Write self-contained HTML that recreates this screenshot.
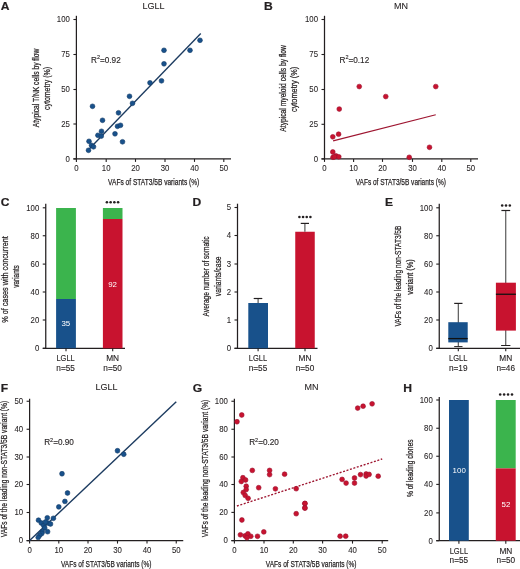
<!DOCTYPE html>
<html><head><meta charset="utf-8"><style>
html,body{margin:0;padding:0;background:#fff;}
body{width:520px;height:569px;overflow:hidden;}
svg{display:block;font-family:"Liberation Sans", sans-serif;filter:blur(0.3px);}
</style></head><body>
<svg width="520" height="569" viewBox="0 0 520 569">
<rect width="520" height="569" fill="#fff"/>
<text transform="translate(0.8,9.6) scale(1.1,1)" font-size="11" text-anchor="start" font-weight="bold" fill="#231f20" stroke="#231f20" stroke-width="0.2">A</text>
<text x="153.6" y="8.8" font-size="9" text-anchor="middle" font-weight="normal" fill="#231f20" stroke="#231f20" stroke-width="0.08">LGLL</text>
<line x1="76.4" y1="15.8" x2="76.4" y2="158.9" stroke="#231f20" stroke-width="1.25" />
<line x1="73.4" y1="19.5" x2="76.4" y2="19.5" stroke="#231f20" stroke-width="1.1" />
<text transform="translate(69.9,22.3) scale(0.92,1)" font-size="8.5" text-anchor="end" font-weight="normal" fill="#231f20" stroke="#231f20" stroke-width="0.08">100</text>
<line x1="73.4" y1="54.5" x2="76.4" y2="54.5" stroke="#231f20" stroke-width="1.1" />
<text transform="translate(69.9,57.3) scale(0.92,1)" font-size="8.5" text-anchor="end" font-weight="normal" fill="#231f20" stroke="#231f20" stroke-width="0.08">75</text>
<line x1="73.4" y1="89.5" x2="76.4" y2="89.5" stroke="#231f20" stroke-width="1.1" />
<text transform="translate(69.9,92.3) scale(0.92,1)" font-size="8.5" text-anchor="end" font-weight="normal" fill="#231f20" stroke="#231f20" stroke-width="0.08">50</text>
<line x1="73.4" y1="124" x2="76.4" y2="124" stroke="#231f20" stroke-width="1.1" />
<text transform="translate(69.9,126.8) scale(0.92,1)" font-size="8.5" text-anchor="end" font-weight="normal" fill="#231f20" stroke="#231f20" stroke-width="0.08">25</text>
<line x1="73.4" y1="158.9" x2="76.4" y2="158.9" stroke="#231f20" stroke-width="1.1" />
<text transform="translate(69.9,161.70000000000002) scale(0.92,1)" font-size="8.5" text-anchor="end" font-weight="normal" fill="#231f20" stroke="#231f20" stroke-width="0.08">0</text>
<line x1="73.4" y1="158.9" x2="231" y2="158.9" stroke="#231f20" stroke-width="1.25" />
<line x1="76.4" y1="158.9" x2="76.4" y2="161.9" stroke="#231f20" stroke-width="1.1" />
<text transform="translate(76.4,170.9) scale(0.92,1)" font-size="8.5" text-anchor="middle" font-weight="normal" fill="#231f20" stroke="#231f20" stroke-width="0.08">0</text>
<line x1="106.2" y1="158.9" x2="106.2" y2="161.9" stroke="#231f20" stroke-width="1.1" />
<text transform="translate(106.2,170.9) scale(0.92,1)" font-size="8.5" text-anchor="middle" font-weight="normal" fill="#231f20" stroke="#231f20" stroke-width="0.08">10</text>
<line x1="135.5" y1="158.9" x2="135.5" y2="161.9" stroke="#231f20" stroke-width="1.1" />
<text transform="translate(135.5,170.9) scale(0.92,1)" font-size="8.5" text-anchor="middle" font-weight="normal" fill="#231f20" stroke="#231f20" stroke-width="0.08">20</text>
<line x1="165" y1="158.9" x2="165" y2="161.9" stroke="#231f20" stroke-width="1.1" />
<text transform="translate(165,170.9) scale(0.92,1)" font-size="8.5" text-anchor="middle" font-weight="normal" fill="#231f20" stroke="#231f20" stroke-width="0.08">30</text>
<line x1="194.5" y1="158.9" x2="194.5" y2="161.9" stroke="#231f20" stroke-width="1.1" />
<text transform="translate(194.5,170.9) scale(0.92,1)" font-size="8.5" text-anchor="middle" font-weight="normal" fill="#231f20" stroke="#231f20" stroke-width="0.08">40</text>
<line x1="223.8" y1="158.9" x2="223.8" y2="161.9" stroke="#231f20" stroke-width="1.1" />
<text transform="translate(223.8,170.9) scale(0.92,1)" font-size="8.5" text-anchor="middle" font-weight="normal" fill="#231f20" stroke="#231f20" stroke-width="0.08">50</text>
<text x="153.7" y="185.2" font-size="9.5" text-anchor="middle" fill="#231f20" textLength="91.2" lengthAdjust="spacingAndGlyphs" stroke="#231f20" stroke-width="0.25">VAFs of STAT3/5B variants (%)</text>
<text transform="translate(39.1,88) rotate(-90)" x="0" y="0" font-size="9.5" text-anchor="middle" fill="#231f20" textLength="78.6" lengthAdjust="spacingAndGlyphs" stroke="#231f20" stroke-width="0.25">Atypical T/NK cells by flow</text>
<text transform="translate(50.2,88.5) rotate(-90)" x="0" y="0" font-size="9.5" text-anchor="middle" fill="#231f20" textLength="43" lengthAdjust="spacingAndGlyphs" stroke="#231f20" stroke-width="0.25">cytometry (%)</text>
<text x="91" y="62.7" font-size="8.2" fill="#231f20" stroke="#231f20" stroke-width="0.12">R<tspan font-size="5.5" dy="-3.4">2</tspan><tspan dy="3.4">=0.92</tspan></text>
<line x1="87" y1="151.3" x2="200.75" y2="33.5" stroke="#1c3b60" stroke-width="1.35" />
<circle cx="88.5" cy="150.3" r="2.4" fill="#18518b" stroke="#143d68" stroke-width="0.6"/>
<circle cx="89" cy="141.3" r="2.4" fill="#18518b" stroke="#143d68" stroke-width="0.6"/>
<circle cx="91.5" cy="145.3" r="2.4" fill="#18518b" stroke="#143d68" stroke-width="0.6"/>
<circle cx="93.5" cy="146.8" r="2.4" fill="#18518b" stroke="#143d68" stroke-width="0.6"/>
<circle cx="92.5" cy="106.3" r="2.4" fill="#18518b" stroke="#143d68" stroke-width="0.6"/>
<circle cx="97.9" cy="135.3" r="2.4" fill="#18518b" stroke="#143d68" stroke-width="0.6"/>
<circle cx="102.5" cy="120.3" r="2.4" fill="#18518b" stroke="#143d68" stroke-width="0.6"/>
<circle cx="101.5" cy="131.3" r="2.4" fill="#18518b" stroke="#143d68" stroke-width="0.6"/>
<circle cx="101.3" cy="136.10000000000002" r="2.4" fill="#18518b" stroke="#143d68" stroke-width="0.6"/>
<circle cx="115" cy="133.8" r="2.4" fill="#18518b" stroke="#143d68" stroke-width="0.6"/>
<circle cx="118.5" cy="112.8" r="2.4" fill="#18518b" stroke="#143d68" stroke-width="0.6"/>
<circle cx="117.5" cy="126.3" r="2.4" fill="#18518b" stroke="#143d68" stroke-width="0.6"/>
<circle cx="120.5" cy="125.3" r="2.4" fill="#18518b" stroke="#143d68" stroke-width="0.6"/>
<circle cx="122.5" cy="141.8" r="2.4" fill="#18518b" stroke="#143d68" stroke-width="0.6"/>
<circle cx="129.5" cy="96.3" r="2.4" fill="#18518b" stroke="#143d68" stroke-width="0.6"/>
<circle cx="132.5" cy="103.3" r="2.4" fill="#18518b" stroke="#143d68" stroke-width="0.6"/>
<circle cx="150" cy="82.8" r="2.4" fill="#18518b" stroke="#143d68" stroke-width="0.6"/>
<circle cx="161.5" cy="80.8" r="2.4" fill="#18518b" stroke="#143d68" stroke-width="0.6"/>
<circle cx="164" cy="63.8" r="2.4" fill="#18518b" stroke="#143d68" stroke-width="0.6"/>
<circle cx="164" cy="50.3" r="2.4" fill="#18518b" stroke="#143d68" stroke-width="0.6"/>
<circle cx="190" cy="50.3" r="2.4" fill="#18518b" stroke="#143d68" stroke-width="0.6"/>
<circle cx="200" cy="40.3" r="2.4" fill="#18518b" stroke="#143d68" stroke-width="0.6"/>
<text transform="translate(264,9.6) scale(1.1,1)" font-size="11" text-anchor="start" font-weight="bold" fill="#231f20" stroke="#231f20" stroke-width="0.2">B</text>
<text x="401" y="8.8" font-size="9" text-anchor="middle" font-weight="normal" fill="#231f20" stroke="#231f20" stroke-width="0.08">MN</text>
<line x1="324.5" y1="15.8" x2="324.5" y2="158.9" stroke="#231f20" stroke-width="1.25" />
<line x1="321.5" y1="19.5" x2="324.5" y2="19.5" stroke="#231f20" stroke-width="1.1" />
<text transform="translate(318.0,22.3) scale(0.92,1)" font-size="8.5" text-anchor="end" font-weight="normal" fill="#231f20" stroke="#231f20" stroke-width="0.08">100</text>
<line x1="321.5" y1="54.5" x2="324.5" y2="54.5" stroke="#231f20" stroke-width="1.1" />
<text transform="translate(318.0,57.3) scale(0.92,1)" font-size="8.5" text-anchor="end" font-weight="normal" fill="#231f20" stroke="#231f20" stroke-width="0.08">75</text>
<line x1="321.5" y1="89.5" x2="324.5" y2="89.5" stroke="#231f20" stroke-width="1.1" />
<text transform="translate(318.0,92.3) scale(0.92,1)" font-size="8.5" text-anchor="end" font-weight="normal" fill="#231f20" stroke="#231f20" stroke-width="0.08">50</text>
<line x1="321.5" y1="124.3" x2="324.5" y2="124.3" stroke="#231f20" stroke-width="1.1" />
<text transform="translate(318.0,127.1) scale(0.92,1)" font-size="8.5" text-anchor="end" font-weight="normal" fill="#231f20" stroke="#231f20" stroke-width="0.08">25</text>
<line x1="321.5" y1="158.9" x2="324.5" y2="158.9" stroke="#231f20" stroke-width="1.1" />
<text transform="translate(318.0,161.70000000000002) scale(0.92,1)" font-size="8.5" text-anchor="end" font-weight="normal" fill="#231f20" stroke="#231f20" stroke-width="0.08">0</text>
<line x1="321.5" y1="158.9" x2="478" y2="158.9" stroke="#231f20" stroke-width="1.25" />
<line x1="324.5" y1="158.9" x2="324.5" y2="161.9" stroke="#231f20" stroke-width="1.1" />
<text transform="translate(324.5,170.9) scale(0.92,1)" font-size="8.5" text-anchor="middle" font-weight="normal" fill="#231f20" stroke="#231f20" stroke-width="0.08">0</text>
<line x1="353.6" y1="158.9" x2="353.6" y2="161.9" stroke="#231f20" stroke-width="1.1" />
<text transform="translate(353.6,170.9) scale(0.92,1)" font-size="8.5" text-anchor="middle" font-weight="normal" fill="#231f20" stroke="#231f20" stroke-width="0.08">10</text>
<line x1="382.5" y1="158.9" x2="382.5" y2="161.9" stroke="#231f20" stroke-width="1.1" />
<text transform="translate(382.5,170.9) scale(0.92,1)" font-size="8.5" text-anchor="middle" font-weight="normal" fill="#231f20" stroke="#231f20" stroke-width="0.08">20</text>
<line x1="412.5" y1="158.9" x2="412.5" y2="161.9" stroke="#231f20" stroke-width="1.1" />
<text transform="translate(412.5,170.9) scale(0.92,1)" font-size="8.5" text-anchor="middle" font-weight="normal" fill="#231f20" stroke="#231f20" stroke-width="0.08">30</text>
<line x1="441.8" y1="158.9" x2="441.8" y2="161.9" stroke="#231f20" stroke-width="1.1" />
<text transform="translate(441.8,170.9) scale(0.92,1)" font-size="8.5" text-anchor="middle" font-weight="normal" fill="#231f20" stroke="#231f20" stroke-width="0.08">40</text>
<line x1="470.8" y1="158.9" x2="470.8" y2="161.9" stroke="#231f20" stroke-width="1.1" />
<text transform="translate(470.8,170.9) scale(0.92,1)" font-size="8.5" text-anchor="middle" font-weight="normal" fill="#231f20" stroke="#231f20" stroke-width="0.08">50</text>
<text x="400.8" y="185.2" font-size="9.5" text-anchor="middle" fill="#231f20" textLength="90.2" lengthAdjust="spacingAndGlyphs" stroke="#231f20" stroke-width="0.25">VAFs of STAT3/5B variants (%)</text>
<text transform="translate(286.3,88.4) rotate(-90)" x="0" y="0" font-size="9.5" text-anchor="middle" fill="#231f20" textLength="86.5" lengthAdjust="spacingAndGlyphs" stroke="#231f20" stroke-width="0.25">Atypical myeloid cells by flow</text>
<text transform="translate(297.4,89.4) rotate(-90)" x="0" y="0" font-size="9.5" text-anchor="middle" fill="#231f20" textLength="45.3" lengthAdjust="spacingAndGlyphs" stroke="#231f20" stroke-width="0.25">cytometry (%)</text>
<text x="339.5" y="62.7" font-size="8.2" fill="#231f20" stroke="#231f20" stroke-width="0.12">R<tspan font-size="5.5" dy="-3.4">2</tspan><tspan dy="3.4">=0.12</tspan></text>
<line x1="333.1" y1="140.9" x2="435.75" y2="114.75" stroke="#9e1530" stroke-width="1.2" />
<circle cx="332.8" cy="136.8" r="2.4" fill="#c8132f" stroke="#9c1230" stroke-width="0.6"/>
<circle cx="338.6" cy="134.20000000000002" r="2.4" fill="#c8132f" stroke="#9c1230" stroke-width="0.6"/>
<circle cx="339.25" cy="109.05" r="2.4" fill="#c8132f" stroke="#9c1230" stroke-width="0.6"/>
<circle cx="359.25" cy="86.55" r="2.4" fill="#c8132f" stroke="#9c1230" stroke-width="0.6"/>
<circle cx="385.75" cy="96.55" r="2.4" fill="#c8132f" stroke="#9c1230" stroke-width="0.6"/>
<circle cx="435.75" cy="86.55" r="2.4" fill="#c8132f" stroke="#9c1230" stroke-width="0.6"/>
<circle cx="429.5" cy="147.3" r="2.4" fill="#c8132f" stroke="#9c1230" stroke-width="0.6"/>
<circle cx="409.25" cy="157.3" r="2.4" fill="#c8132f" stroke="#9c1230" stroke-width="0.6"/>
<circle cx="332.8" cy="152.0" r="2.4" fill="#c8132f" stroke="#9c1230" stroke-width="0.6"/>
<circle cx="333" cy="157.3" r="2.4" fill="#c8132f" stroke="#9c1230" stroke-width="0.6"/>
<circle cx="336" cy="155.9" r="2.4" fill="#c8132f" stroke="#9c1230" stroke-width="0.6"/>
<circle cx="338.8" cy="156.8" r="2.4" fill="#c8132f" stroke="#9c1230" stroke-width="0.6"/>
<circle cx="334.5" cy="156.8" r="2.4" fill="#c8132f" stroke="#9c1230" stroke-width="0.6"/>
<text transform="translate(0.8,205.8) scale(1.1,1)" font-size="11" text-anchor="start" font-weight="bold" fill="#231f20" stroke="#231f20" stroke-width="0.2">C</text>
<line x1="45.75" y1="203.7" x2="45.75" y2="348.3" stroke="#231f20" stroke-width="1.25" />
<line x1="42.75" y1="207.8" x2="45.75" y2="207.8" stroke="#231f20" stroke-width="1.1" />
<text transform="translate(39.25,210.60000000000002) scale(0.92,1)" font-size="8.5" text-anchor="end" font-weight="normal" fill="#231f20" stroke="#231f20" stroke-width="0.08">100</text>
<line x1="42.75" y1="235.75" x2="45.75" y2="235.75" stroke="#231f20" stroke-width="1.1" />
<text transform="translate(39.25,238.55) scale(0.92,1)" font-size="8.5" text-anchor="end" font-weight="normal" fill="#231f20" stroke="#231f20" stroke-width="0.08">80</text>
<line x1="42.75" y1="264.1" x2="45.75" y2="264.1" stroke="#231f20" stroke-width="1.1" />
<text transform="translate(39.25,266.90000000000003) scale(0.92,1)" font-size="8.5" text-anchor="end" font-weight="normal" fill="#231f20" stroke="#231f20" stroke-width="0.08">60</text>
<line x1="42.75" y1="292" x2="45.75" y2="292" stroke="#231f20" stroke-width="1.1" />
<text transform="translate(39.25,294.8) scale(0.92,1)" font-size="8.5" text-anchor="end" font-weight="normal" fill="#231f20" stroke="#231f20" stroke-width="0.08">40</text>
<line x1="42.75" y1="320" x2="45.75" y2="320" stroke="#231f20" stroke-width="1.1" />
<text transform="translate(39.25,322.8) scale(0.92,1)" font-size="8.5" text-anchor="end" font-weight="normal" fill="#231f20" stroke="#231f20" stroke-width="0.08">20</text>
<line x1="42.75" y1="348.3" x2="45.75" y2="348.3" stroke="#231f20" stroke-width="1.1" />
<text transform="translate(39.25,351.1) scale(0.92,1)" font-size="8.5" text-anchor="end" font-weight="normal" fill="#231f20" stroke="#231f20" stroke-width="0.08">0</text>
<line x1="42.75" y1="348.3" x2="125" y2="348.3" stroke="#231f20" stroke-width="1.25" />
<rect x="56.1" y="208" width="19.8" height="91" fill="#3bb44d"/>
<rect x="56.1" y="299" width="19.8" height="49.3" fill="#18518b"/>
<rect x="102.9" y="208" width="19.6" height="11" fill="#3bb44d"/>
<rect x="102.9" y="219" width="19.6" height="129.3" fill="#c8132f"/>
<line x1="66" y1="348.3" x2="66" y2="351.3" stroke="#231f20" stroke-width="1.1" />
<line x1="112.7" y1="348.3" x2="112.7" y2="351.3" stroke="#231f20" stroke-width="1.1" />
<text x="65.8" y="326.4" font-size="7.9" text-anchor="middle" font-weight="normal" fill="#ffffff" stroke="#ffffff" stroke-width="0">35</text>
<text x="112.6" y="286.6" font-size="7.9" text-anchor="middle" font-weight="normal" fill="#ffffff" stroke="#ffffff" stroke-width="0">92</text>
<circle cx="106.90" cy="202.3" r="1.3" fill="#231f20"/>
<circle cx="110.63" cy="202.3" r="1.3" fill="#231f20"/>
<circle cx="114.37" cy="202.3" r="1.3" fill="#231f20"/>
<circle cx="118.10" cy="202.3" r="1.3" fill="#231f20"/>
<text x="65.6" y="361.2" font-size="8.3" text-anchor="middle" font-weight="normal" fill="#231f20" stroke="#231f20" stroke-width="0.12" textLength="18.4" lengthAdjust="spacingAndGlyphs">LGLL</text>
<text x="65.6" y="370.7" font-size="8.3" text-anchor="middle" font-weight="normal" fill="#231f20" stroke="#231f20" stroke-width="0.12" textLength="18.6" lengthAdjust="spacingAndGlyphs">n=55</text>
<text x="112.6" y="361.2" font-size="8.3" text-anchor="middle" font-weight="normal" fill="#231f20" stroke="#231f20" stroke-width="0.12">MN</text>
<text x="112.6" y="370.7" font-size="8.3" text-anchor="middle" font-weight="normal" fill="#231f20" stroke="#231f20" stroke-width="0.12" textLength="18.6" lengthAdjust="spacingAndGlyphs">n=50</text>
<text transform="translate(8.0,279.5) rotate(-90)" x="0" y="0" font-size="9.5" text-anchor="middle" fill="#231f20" textLength="86.5" lengthAdjust="spacingAndGlyphs" stroke="#231f20" stroke-width="0.25">% of cases with concurrent</text>
<text transform="translate(19.0,276.5) rotate(-90)" x="0" y="0" font-size="9.5" text-anchor="middle" fill="#231f20" textLength="22.5" lengthAdjust="spacingAndGlyphs" stroke="#231f20" stroke-width="0.25">variants</text>
<text transform="translate(192.5,205.8) scale(1.1,1)" font-size="11" text-anchor="start" font-weight="bold" fill="#231f20" stroke="#231f20" stroke-width="0.2">D</text>
<line x1="237.5" y1="203.7" x2="237.5" y2="348.3" stroke="#231f20" stroke-width="1.25" />
<line x1="234.5" y1="207.5" x2="237.5" y2="207.5" stroke="#231f20" stroke-width="1.1" />
<text transform="translate(231.0,210.3) scale(0.92,1)" font-size="8.5" text-anchor="end" font-weight="normal" fill="#231f20" stroke="#231f20" stroke-width="0.08">5</text>
<line x1="234.5" y1="235.5" x2="237.5" y2="235.5" stroke="#231f20" stroke-width="1.1" />
<text transform="translate(231.0,238.3) scale(0.92,1)" font-size="8.5" text-anchor="end" font-weight="normal" fill="#231f20" stroke="#231f20" stroke-width="0.08">4</text>
<line x1="234.5" y1="264" x2="237.5" y2="264" stroke="#231f20" stroke-width="1.1" />
<text transform="translate(231.0,266.8) scale(0.92,1)" font-size="8.5" text-anchor="end" font-weight="normal" fill="#231f20" stroke="#231f20" stroke-width="0.08">3</text>
<line x1="234.5" y1="292" x2="237.5" y2="292" stroke="#231f20" stroke-width="1.1" />
<text transform="translate(231.0,294.8) scale(0.92,1)" font-size="8.5" text-anchor="end" font-weight="normal" fill="#231f20" stroke="#231f20" stroke-width="0.08">2</text>
<line x1="234.5" y1="320" x2="237.5" y2="320" stroke="#231f20" stroke-width="1.1" />
<text transform="translate(231.0,322.8) scale(0.92,1)" font-size="8.5" text-anchor="end" font-weight="normal" fill="#231f20" stroke="#231f20" stroke-width="0.08">1</text>
<line x1="234.5" y1="348.3" x2="237.5" y2="348.3" stroke="#231f20" stroke-width="1.1" />
<text transform="translate(231.0,351.1) scale(0.92,1)" font-size="8.5" text-anchor="end" font-weight="normal" fill="#231f20" stroke="#231f20" stroke-width="0.08">0</text>
<line x1="234.5" y1="348.3" x2="317.5" y2="348.3" stroke="#231f20" stroke-width="1.25" />
<rect x="248.3" y="303" width="19.7" height="45.3" fill="#18518b"/>
<rect x="295.25" y="231.75" width="19.5" height="116.55" fill="#c8132f"/>
<line x1="258.1" y1="303" x2="258.1" y2="298.5" stroke="#4a4a4a" stroke-width="1.1" />
<line x1="253.7" y1="298.5" x2="262.3" y2="298.5" stroke="#231f20" stroke-width="1.2" />
<line x1="304.9" y1="231.75" x2="304.9" y2="223.4" stroke="#4a4a4a" stroke-width="1.1" />
<line x1="300.75" y1="223.4" x2="309" y2="223.4" stroke="#231f20" stroke-width="1.2" />
<line x1="258.1" y1="348.3" x2="258.1" y2="351.3" stroke="#231f20" stroke-width="1.1" />
<line x1="305" y1="348.3" x2="305" y2="351.3" stroke="#231f20" stroke-width="1.1" />
<circle cx="299.40" cy="217" r="1.3" fill="#231f20"/>
<circle cx="303.07" cy="217" r="1.3" fill="#231f20"/>
<circle cx="306.73" cy="217" r="1.3" fill="#231f20"/>
<circle cx="310.40" cy="217" r="1.3" fill="#231f20"/>
<text x="258" y="361.2" font-size="8.3" text-anchor="middle" font-weight="normal" fill="#231f20" stroke="#231f20" stroke-width="0.12" textLength="18.4" lengthAdjust="spacingAndGlyphs">LGLL</text>
<text x="258" y="370.7" font-size="8.3" text-anchor="middle" font-weight="normal" fill="#231f20" stroke="#231f20" stroke-width="0.12" textLength="18.6" lengthAdjust="spacingAndGlyphs">n=55</text>
<text x="305" y="361.2" font-size="8.3" text-anchor="middle" font-weight="normal" fill="#231f20" stroke="#231f20" stroke-width="0.12">MN</text>
<text x="305" y="370.7" font-size="8.3" text-anchor="middle" font-weight="normal" fill="#231f20" stroke="#231f20" stroke-width="0.12" textLength="18.6" lengthAdjust="spacingAndGlyphs">n=50</text>
<text transform="translate(209.4,276.4) rotate(-90)" x="0" y="0" font-size="9.5" text-anchor="middle" fill="#231f20" textLength="80" lengthAdjust="spacingAndGlyphs" stroke="#231f20" stroke-width="0.25">Average number of somatic</text>
<text transform="translate(221.0,276.3) rotate(-90)" x="0" y="0" font-size="9.5" text-anchor="middle" fill="#231f20" textLength="39.8" lengthAdjust="spacingAndGlyphs" stroke="#231f20" stroke-width="0.25">variants/case</text>
<text transform="translate(385,205.8) scale(1.1,1)" font-size="11" text-anchor="start" font-weight="bold" fill="#231f20" stroke="#231f20" stroke-width="0.2">E</text>
<line x1="439.25" y1="203.7" x2="439.25" y2="348.3" stroke="#231f20" stroke-width="1.25" />
<line x1="436.25" y1="207.8" x2="439.25" y2="207.8" stroke="#231f20" stroke-width="1.1" />
<text transform="translate(432.75,210.60000000000002) scale(0.92,1)" font-size="8.5" text-anchor="end" font-weight="normal" fill="#231f20" stroke="#231f20" stroke-width="0.08">100</text>
<line x1="436.25" y1="235.75" x2="439.25" y2="235.75" stroke="#231f20" stroke-width="1.1" />
<text transform="translate(432.75,238.55) scale(0.92,1)" font-size="8.5" text-anchor="end" font-weight="normal" fill="#231f20" stroke="#231f20" stroke-width="0.08">80</text>
<line x1="436.25" y1="264.1" x2="439.25" y2="264.1" stroke="#231f20" stroke-width="1.1" />
<text transform="translate(432.75,266.90000000000003) scale(0.92,1)" font-size="8.5" text-anchor="end" font-weight="normal" fill="#231f20" stroke="#231f20" stroke-width="0.08">60</text>
<line x1="436.25" y1="292" x2="439.25" y2="292" stroke="#231f20" stroke-width="1.1" />
<text transform="translate(432.75,294.8) scale(0.92,1)" font-size="8.5" text-anchor="end" font-weight="normal" fill="#231f20" stroke="#231f20" stroke-width="0.08">40</text>
<line x1="436.25" y1="320" x2="439.25" y2="320" stroke="#231f20" stroke-width="1.1" />
<text transform="translate(432.75,322.8) scale(0.92,1)" font-size="8.5" text-anchor="end" font-weight="normal" fill="#231f20" stroke="#231f20" stroke-width="0.08">20</text>
<line x1="436.25" y1="348.3" x2="439.25" y2="348.3" stroke="#231f20" stroke-width="1.1" />
<text transform="translate(432.75,351.1) scale(0.92,1)" font-size="8.5" text-anchor="end" font-weight="normal" fill="#231f20" stroke="#231f20" stroke-width="0.08">0</text>
<line x1="436.25" y1="348.3" x2="520" y2="348.3" stroke="#231f20" stroke-width="1.25" />
<line x1="458.3" y1="303.4" x2="458.3" y2="346.6" stroke="#4a4a4a" stroke-width="1.1" />
<line x1="454.2" y1="303.4" x2="462.5" y2="303.4" stroke="#231f20" stroke-width="1.2" />
<line x1="454.2" y1="346.6" x2="462.5" y2="346.6" stroke="#231f20" stroke-width="1.0" />
<rect x="448.3" y="322.2" width="19.4" height="20.2" fill="#18518b"/>
<line x1="448.3" y1="338.6" x2="467.7" y2="338.6" stroke="#111" stroke-width="1.3" />
<line x1="505.75" y1="210.5" x2="505.75" y2="345.5" stroke="#4a4a4a" stroke-width="1.1" />
<line x1="501.4" y1="210.5" x2="510.2" y2="210.5" stroke="#231f20" stroke-width="1.2" />
<line x1="501.1" y1="345.5" x2="510.4" y2="345.5" stroke="#231f20" stroke-width="1.0" />
<rect x="495.9" y="282.7" width="20" height="47.9" fill="#c8132f"/>
<line x1="495.9" y1="294.25" x2="515.9" y2="294.25" stroke="#111" stroke-width="1.3" />
<line x1="458.3" y1="348.3" x2="458.3" y2="351.3" stroke="#231f20" stroke-width="1.1" />
<line x1="505.75" y1="348.3" x2="505.75" y2="351.3" stroke="#231f20" stroke-width="1.1" />
<circle cx="502.20" cy="205.5" r="1.3" fill="#231f20"/>
<circle cx="506.00" cy="205.5" r="1.3" fill="#231f20"/>
<circle cx="509.80" cy="205.5" r="1.3" fill="#231f20"/>
<text x="458.25" y="361.2" font-size="8.3" text-anchor="middle" font-weight="normal" fill="#231f20" stroke="#231f20" stroke-width="0.12" textLength="18.4" lengthAdjust="spacingAndGlyphs">LGLL</text>
<text x="458.25" y="370.7" font-size="8.3" text-anchor="middle" font-weight="normal" fill="#231f20" stroke="#231f20" stroke-width="0.12" textLength="18.6" lengthAdjust="spacingAndGlyphs">n=19</text>
<text x="505.75" y="361.2" font-size="8.3" text-anchor="middle" font-weight="normal" fill="#231f20" stroke="#231f20" stroke-width="0.12">MN</text>
<text x="505.75" y="370.7" font-size="8.3" text-anchor="middle" font-weight="normal" fill="#231f20" stroke="#231f20" stroke-width="0.12" textLength="18.6" lengthAdjust="spacingAndGlyphs">n=46</text>
<text transform="translate(400.9,276.1) rotate(-90)" x="0" y="0" font-size="9.5" text-anchor="middle" fill="#231f20" textLength="101" lengthAdjust="spacingAndGlyphs" stroke="#231f20" stroke-width="0.25">VAFs of the leading non-STAT3/5B</text>
<text transform="translate(412.6,277.0) rotate(-90)" x="0" y="0" font-size="9.5" text-anchor="middle" fill="#231f20" textLength="35.6" lengthAdjust="spacingAndGlyphs" stroke="#231f20" stroke-width="0.25">variant (%)</text>
<text transform="translate(0.8,392.2) scale(1.1,1)" font-size="11" text-anchor="start" font-weight="bold" fill="#231f20" stroke="#231f20" stroke-width="0.2">F</text>
<text x="106.5" y="390.3" font-size="9" text-anchor="middle" font-weight="normal" fill="#231f20" stroke="#231f20" stroke-width="0.08">LGLL</text>
<line x1="29.6" y1="398.75" x2="29.6" y2="540.6" stroke="#231f20" stroke-width="1.25" />
<line x1="26.6" y1="401.25" x2="29.6" y2="401.25" stroke="#231f20" stroke-width="1.1" />
<text transform="translate(23.1,404.05) scale(0.92,1)" font-size="8.5" text-anchor="end" font-weight="normal" fill="#231f20" stroke="#231f20" stroke-width="0.08">50</text>
<line x1="26.6" y1="429.25" x2="29.6" y2="429.25" stroke="#231f20" stroke-width="1.1" />
<text transform="translate(23.1,432.05) scale(0.92,1)" font-size="8.5" text-anchor="end" font-weight="normal" fill="#231f20" stroke="#231f20" stroke-width="0.08">40</text>
<line x1="26.6" y1="457" x2="29.6" y2="457" stroke="#231f20" stroke-width="1.1" />
<text transform="translate(23.1,459.8) scale(0.92,1)" font-size="8.5" text-anchor="end" font-weight="normal" fill="#231f20" stroke="#231f20" stroke-width="0.08">30</text>
<line x1="26.6" y1="484.5" x2="29.6" y2="484.5" stroke="#231f20" stroke-width="1.1" />
<text transform="translate(23.1,487.3) scale(0.92,1)" font-size="8.5" text-anchor="end" font-weight="normal" fill="#231f20" stroke="#231f20" stroke-width="0.08">20</text>
<line x1="26.6" y1="512.5" x2="29.6" y2="512.5" stroke="#231f20" stroke-width="1.1" />
<text transform="translate(23.1,515.3) scale(0.92,1)" font-size="8.5" text-anchor="end" font-weight="normal" fill="#231f20" stroke="#231f20" stroke-width="0.08">10</text>
<line x1="26.6" y1="540.6" x2="29.6" y2="540.6" stroke="#231f20" stroke-width="1.1" />
<text transform="translate(23.1,543.4) scale(0.92,1)" font-size="8.5" text-anchor="end" font-weight="normal" fill="#231f20" stroke="#231f20" stroke-width="0.08">0</text>
<line x1="26.6" y1="540.6" x2="183.25" y2="540.6" stroke="#231f20" stroke-width="1.25" />
<line x1="29.6" y1="540.6" x2="29.6" y2="543.6" stroke="#231f20" stroke-width="1.1" />
<text transform="translate(29.6,552.6) scale(0.92,1)" font-size="8.5" text-anchor="middle" font-weight="normal" fill="#231f20" stroke="#231f20" stroke-width="0.08">0</text>
<line x1="58.8" y1="540.6" x2="58.8" y2="543.6" stroke="#231f20" stroke-width="1.1" />
<text transform="translate(58.8,552.6) scale(0.92,1)" font-size="8.5" text-anchor="middle" font-weight="normal" fill="#231f20" stroke="#231f20" stroke-width="0.08">10</text>
<line x1="88" y1="540.6" x2="88" y2="543.6" stroke="#231f20" stroke-width="1.1" />
<text transform="translate(88,552.6) scale(0.92,1)" font-size="8.5" text-anchor="middle" font-weight="normal" fill="#231f20" stroke="#231f20" stroke-width="0.08">20</text>
<line x1="117.5" y1="540.6" x2="117.5" y2="543.6" stroke="#231f20" stroke-width="1.1" />
<text transform="translate(117.5,552.6) scale(0.92,1)" font-size="8.5" text-anchor="middle" font-weight="normal" fill="#231f20" stroke="#231f20" stroke-width="0.08">30</text>
<line x1="147" y1="540.6" x2="147" y2="543.6" stroke="#231f20" stroke-width="1.1" />
<text transform="translate(147,552.6) scale(0.92,1)" font-size="8.5" text-anchor="middle" font-weight="normal" fill="#231f20" stroke="#231f20" stroke-width="0.08">40</text>
<line x1="176.25" y1="540.6" x2="176.25" y2="543.6" stroke="#231f20" stroke-width="1.1" />
<text transform="translate(176.25,552.6) scale(0.92,1)" font-size="8.5" text-anchor="middle" font-weight="normal" fill="#231f20" stroke="#231f20" stroke-width="0.08">50</text>
<text x="106.25" y="566.6" font-size="9.5" text-anchor="middle" fill="#231f20" textLength="90.6" lengthAdjust="spacingAndGlyphs" stroke="#231f20" stroke-width="0.25">VAFs of STAT3/5B variants (%)</text>
<text transform="translate(7.3,469) rotate(-90)" x="0" y="0" font-size="9.5" text-anchor="middle" fill="#231f20" textLength="136.4" lengthAdjust="spacingAndGlyphs" stroke="#231f20" stroke-width="0.25">VAFs of the leading non-STAT3/5B variant (%)</text>
<text x="44.2" y="445.3" font-size="8.2" fill="#231f20" stroke="#231f20" stroke-width="0.12">R<tspan font-size="5.5" dy="-3.4">2</tspan><tspan dy="3.4">=0.90</tspan></text>
<line x1="29.6" y1="540.6" x2="176.25" y2="401.75" stroke="#1c3b60" stroke-width="1.4" />
<circle cx="117.5" cy="450.75" r="2.4" fill="#18518b" stroke="#143d68" stroke-width="0.6"/>
<circle cx="123.75" cy="454.25" r="2.4" fill="#18518b" stroke="#143d68" stroke-width="0.6"/>
<circle cx="62" cy="473.75" r="2.4" fill="#18518b" stroke="#143d68" stroke-width="0.6"/>
<circle cx="67.5" cy="493" r="2.4" fill="#18518b" stroke="#143d68" stroke-width="0.6"/>
<circle cx="64.9" cy="501.4" r="2.4" fill="#18518b" stroke="#143d68" stroke-width="0.6"/>
<circle cx="58.8" cy="506.9" r="2.4" fill="#18518b" stroke="#143d68" stroke-width="0.6"/>
<circle cx="47.3" cy="517.8" r="2.4" fill="#18518b" stroke="#143d68" stroke-width="0.6"/>
<circle cx="53.4" cy="518.3" r="2.4" fill="#18518b" stroke="#143d68" stroke-width="0.6"/>
<circle cx="38.5" cy="520.2" r="2.4" fill="#18518b" stroke="#143d68" stroke-width="0.6"/>
<circle cx="41.3" cy="523" r="2.4" fill="#18518b" stroke="#143d68" stroke-width="0.6"/>
<circle cx="43.7" cy="525.5" r="2.4" fill="#18518b" stroke="#143d68" stroke-width="0.6"/>
<circle cx="48.1" cy="523.1" r="2.4" fill="#18518b" stroke="#143d68" stroke-width="0.6"/>
<circle cx="50.5" cy="524" r="2.4" fill="#18518b" stroke="#143d68" stroke-width="0.6"/>
<circle cx="44.7" cy="527.9" r="2.4" fill="#18518b" stroke="#143d68" stroke-width="0.6"/>
<circle cx="47.6" cy="531.7" r="2.4" fill="#18518b" stroke="#143d68" stroke-width="0.6"/>
<circle cx="42.3" cy="531.7" r="2.4" fill="#18518b" stroke="#143d68" stroke-width="0.6"/>
<circle cx="41.8" cy="533.4" r="2.4" fill="#18518b" stroke="#143d68" stroke-width="0.6"/>
<circle cx="39.8" cy="535.2" r="2.4" fill="#18518b" stroke="#143d68" stroke-width="0.6"/>
<circle cx="38.2" cy="537.4" r="2.4" fill="#18518b" stroke="#143d68" stroke-width="0.6"/>
<circle cx="45.5" cy="522" r="2.4" fill="#18518b" stroke="#143d68" stroke-width="0.6"/>
<text transform="translate(192.8,392.3) scale(1.1,1)" font-size="11" text-anchor="start" font-weight="bold" fill="#231f20" stroke="#231f20" stroke-width="0.2">G</text>
<text x="311.5" y="390.3" font-size="9" text-anchor="middle" font-weight="normal" fill="#231f20" stroke="#231f20" stroke-width="0.08">MN</text>
<line x1="234.4" y1="398.75" x2="234.4" y2="540.6" stroke="#231f20" stroke-width="1.25" />
<line x1="231.4" y1="401.25" x2="234.4" y2="401.25" stroke="#231f20" stroke-width="1.1" />
<text transform="translate(227.9,404.05) scale(0.92,1)" font-size="8.5" text-anchor="end" font-weight="normal" fill="#231f20" stroke="#231f20" stroke-width="0.08">100</text>
<line x1="231.4" y1="429.25" x2="234.4" y2="429.25" stroke="#231f20" stroke-width="1.1" />
<text transform="translate(227.9,432.05) scale(0.92,1)" font-size="8.5" text-anchor="end" font-weight="normal" fill="#231f20" stroke="#231f20" stroke-width="0.08">80</text>
<line x1="231.4" y1="457" x2="234.4" y2="457" stroke="#231f20" stroke-width="1.1" />
<text transform="translate(227.9,459.8) scale(0.92,1)" font-size="8.5" text-anchor="end" font-weight="normal" fill="#231f20" stroke="#231f20" stroke-width="0.08">60</text>
<line x1="231.4" y1="484.5" x2="234.4" y2="484.5" stroke="#231f20" stroke-width="1.1" />
<text transform="translate(227.9,487.3) scale(0.92,1)" font-size="8.5" text-anchor="end" font-weight="normal" fill="#231f20" stroke="#231f20" stroke-width="0.08">40</text>
<line x1="231.4" y1="512.4" x2="234.4" y2="512.4" stroke="#231f20" stroke-width="1.1" />
<text transform="translate(227.9,515.1999999999999) scale(0.92,1)" font-size="8.5" text-anchor="end" font-weight="normal" fill="#231f20" stroke="#231f20" stroke-width="0.08">20</text>
<line x1="231.4" y1="540.6" x2="234.4" y2="540.6" stroke="#231f20" stroke-width="1.1" />
<text transform="translate(227.9,543.4) scale(0.92,1)" font-size="8.5" text-anchor="end" font-weight="normal" fill="#231f20" stroke="#231f20" stroke-width="0.08">0</text>
<line x1="231.4" y1="540.6" x2="388.2" y2="540.6" stroke="#231f20" stroke-width="1.25" />
<line x1="234.4" y1="540.6" x2="234.4" y2="543.6" stroke="#231f20" stroke-width="1.1" />
<text transform="translate(234.4,552.6) scale(0.92,1)" font-size="8.5" text-anchor="middle" font-weight="normal" fill="#231f20" stroke="#231f20" stroke-width="0.08">0</text>
<line x1="264" y1="540.6" x2="264" y2="543.6" stroke="#231f20" stroke-width="1.1" />
<text transform="translate(264,552.6) scale(0.92,1)" font-size="8.5" text-anchor="middle" font-weight="normal" fill="#231f20" stroke="#231f20" stroke-width="0.08">10</text>
<line x1="293.3" y1="540.6" x2="293.3" y2="543.6" stroke="#231f20" stroke-width="1.1" />
<text transform="translate(293.3,552.6) scale(0.92,1)" font-size="8.5" text-anchor="middle" font-weight="normal" fill="#231f20" stroke="#231f20" stroke-width="0.08">20</text>
<line x1="322.6" y1="540.6" x2="322.6" y2="543.6" stroke="#231f20" stroke-width="1.1" />
<text transform="translate(322.6,552.6) scale(0.92,1)" font-size="8.5" text-anchor="middle" font-weight="normal" fill="#231f20" stroke="#231f20" stroke-width="0.08">30</text>
<line x1="352.5" y1="540.6" x2="352.5" y2="543.6" stroke="#231f20" stroke-width="1.1" />
<text transform="translate(352.5,552.6) scale(0.92,1)" font-size="8.5" text-anchor="middle" font-weight="normal" fill="#231f20" stroke="#231f20" stroke-width="0.08">40</text>
<line x1="382.2" y1="540.6" x2="382.2" y2="543.6" stroke="#231f20" stroke-width="1.1" />
<text transform="translate(382.2,552.6) scale(0.92,1)" font-size="8.5" text-anchor="middle" font-weight="normal" fill="#231f20" stroke="#231f20" stroke-width="0.08">50</text>
<text x="311.2" y="566.6" font-size="9.5" text-anchor="middle" fill="#231f20" textLength="90.7" lengthAdjust="spacingAndGlyphs" stroke="#231f20" stroke-width="0.25">VAFs of STAT3/5B variants (%)</text>
<text transform="translate(208.2,468.4) rotate(-90)" x="0" y="0" font-size="9.5" text-anchor="middle" fill="#231f20" textLength="137.5" lengthAdjust="spacingAndGlyphs" stroke="#231f20" stroke-width="0.25">VAFs of the leading non-STAT3/5B variant (%)</text>
<text x="249.2" y="445.3" font-size="8.2" fill="#231f20" stroke="#231f20" stroke-width="0.12">R<tspan font-size="5.5" dy="-3.4">2</tspan><tspan dy="3.4">=0.20</tspan></text>
<line x1="236.9" y1="506" x2="382.2" y2="459" stroke="#9e1530" stroke-width="1.35" stroke-dasharray="2,1.6"/>
<circle cx="237" cy="421.75" r="2.4" fill="#c8132f" stroke="#9c1230" stroke-width="0.6"/>
<circle cx="241.75" cy="415" r="2.4" fill="#c8132f" stroke="#9c1230" stroke-width="0.6"/>
<circle cx="252.3" cy="470.4" r="2.4" fill="#c8132f" stroke="#9c1230" stroke-width="0.6"/>
<circle cx="269.6" cy="470.4" r="2.4" fill="#c8132f" stroke="#9c1230" stroke-width="0.6"/>
<circle cx="269.6" cy="474.6" r="2.4" fill="#c8132f" stroke="#9c1230" stroke-width="0.6"/>
<circle cx="284.6" cy="474.2" r="2.4" fill="#c8132f" stroke="#9c1230" stroke-width="0.6"/>
<circle cx="242.9" cy="477.7" r="2.4" fill="#c8132f" stroke="#9c1230" stroke-width="0.6"/>
<circle cx="241.3" cy="481.5" r="2.4" fill="#c8132f" stroke="#9c1230" stroke-width="0.6"/>
<circle cx="245.6" cy="480" r="2.4" fill="#c8132f" stroke="#9c1230" stroke-width="0.6"/>
<circle cx="246.2" cy="486.2" r="2.4" fill="#c8132f" stroke="#9c1230" stroke-width="0.6"/>
<circle cx="258.7" cy="487.7" r="2.4" fill="#c8132f" stroke="#9c1230" stroke-width="0.6"/>
<circle cx="275.4" cy="488.8" r="2.4" fill="#c8132f" stroke="#9c1230" stroke-width="0.6"/>
<circle cx="296.2" cy="488.7" r="2.4" fill="#c8132f" stroke="#9c1230" stroke-width="0.6"/>
<circle cx="246.2" cy="489.6" r="2.4" fill="#c8132f" stroke="#9c1230" stroke-width="0.6"/>
<circle cx="243.3" cy="492.5" r="2.4" fill="#c8132f" stroke="#9c1230" stroke-width="0.6"/>
<circle cx="245.2" cy="495.4" r="2.4" fill="#c8132f" stroke="#9c1230" stroke-width="0.6"/>
<circle cx="248.1" cy="498.3" r="2.4" fill="#c8132f" stroke="#9c1230" stroke-width="0.6"/>
<circle cx="304.8" cy="503.5" r="2.4" fill="#c8132f" stroke="#9c1230" stroke-width="0.6"/>
<circle cx="304.8" cy="507.9" r="2.4" fill="#c8132f" stroke="#9c1230" stroke-width="0.6"/>
<circle cx="296.2" cy="513.7" r="2.4" fill="#c8132f" stroke="#9c1230" stroke-width="0.6"/>
<circle cx="241.9" cy="520" r="2.4" fill="#c8132f" stroke="#9c1230" stroke-width="0.6"/>
<circle cx="263.8" cy="531.9" r="2.4" fill="#c8132f" stroke="#9c1230" stroke-width="0.6"/>
<circle cx="240.4" cy="534.8" r="2.4" fill="#c8132f" stroke="#9c1230" stroke-width="0.6"/>
<circle cx="245" cy="535.8" r="2.4" fill="#c8132f" stroke="#9c1230" stroke-width="0.6"/>
<circle cx="247.9" cy="533.8" r="2.4" fill="#c8132f" stroke="#9c1230" stroke-width="0.6"/>
<circle cx="250.8" cy="536.3" r="2.4" fill="#c8132f" stroke="#9c1230" stroke-width="0.6"/>
<circle cx="257.5" cy="536.3" r="2.4" fill="#c8132f" stroke="#9c1230" stroke-width="0.6"/>
<circle cx="246.9" cy="537.7" r="2.4" fill="#c8132f" stroke="#9c1230" stroke-width="0.6"/>
<circle cx="357.7" cy="408.1" r="2.4" fill="#c8132f" stroke="#9c1230" stroke-width="0.6"/>
<circle cx="363.1" cy="406.2" r="2.4" fill="#c8132f" stroke="#9c1230" stroke-width="0.6"/>
<circle cx="372.1" cy="403.8" r="2.4" fill="#c8132f" stroke="#9c1230" stroke-width="0.6"/>
<circle cx="342.1" cy="479.4" r="2.4" fill="#c8132f" stroke="#9c1230" stroke-width="0.6"/>
<circle cx="346.1" cy="483.1" r="2.4" fill="#c8132f" stroke="#9c1230" stroke-width="0.6"/>
<circle cx="354.5" cy="478" r="2.4" fill="#c8132f" stroke="#9c1230" stroke-width="0.6"/>
<circle cx="354.5" cy="483.1" r="2.4" fill="#c8132f" stroke="#9c1230" stroke-width="0.6"/>
<circle cx="360.5" cy="474.6" r="2.4" fill="#c8132f" stroke="#9c1230" stroke-width="0.6"/>
<circle cx="366.1" cy="474" r="2.4" fill="#c8132f" stroke="#9c1230" stroke-width="0.6"/>
<circle cx="366.1" cy="476" r="2.4" fill="#c8132f" stroke="#9c1230" stroke-width="0.6"/>
<circle cx="369.1" cy="474.4" r="2.4" fill="#c8132f" stroke="#9c1230" stroke-width="0.6"/>
<circle cx="378.2" cy="476.2" r="2.4" fill="#c8132f" stroke="#9c1230" stroke-width="0.6"/>
<circle cx="305" cy="503.5" r="2.4" fill="#c8132f" stroke="#9c1230" stroke-width="0.6"/>
<circle cx="305" cy="508.1" r="2.4" fill="#c8132f" stroke="#9c1230" stroke-width="0.6"/>
<circle cx="340.1" cy="536.2" r="2.4" fill="#c8132f" stroke="#9c1230" stroke-width="0.6"/>
<circle cx="345.7" cy="536.2" r="2.4" fill="#c8132f" stroke="#9c1230" stroke-width="0.6"/>
<text transform="translate(403.3,392.2) scale(1.1,1)" font-size="11" text-anchor="start" font-weight="bold" fill="#231f20" stroke="#231f20" stroke-width="0.2">H</text>
<line x1="439.25" y1="397" x2="439.25" y2="540.7" stroke="#231f20" stroke-width="1.25" />
<line x1="436.25" y1="400" x2="439.25" y2="400" stroke="#231f20" stroke-width="1.1" />
<text transform="translate(432.75,402.8) scale(0.92,1)" font-size="8.5" text-anchor="end" font-weight="normal" fill="#231f20" stroke="#231f20" stroke-width="0.08">100</text>
<line x1="436.25" y1="428.25" x2="439.25" y2="428.25" stroke="#231f20" stroke-width="1.1" />
<text transform="translate(432.75,431.05) scale(0.92,1)" font-size="8.5" text-anchor="end" font-weight="normal" fill="#231f20" stroke="#231f20" stroke-width="0.08">80</text>
<line x1="436.25" y1="456.25" x2="439.25" y2="456.25" stroke="#231f20" stroke-width="1.1" />
<text transform="translate(432.75,459.05) scale(0.92,1)" font-size="8.5" text-anchor="end" font-weight="normal" fill="#231f20" stroke="#231f20" stroke-width="0.08">60</text>
<line x1="436.25" y1="484.4" x2="439.25" y2="484.4" stroke="#231f20" stroke-width="1.1" />
<text transform="translate(432.75,487.2) scale(0.92,1)" font-size="8.5" text-anchor="end" font-weight="normal" fill="#231f20" stroke="#231f20" stroke-width="0.08">40</text>
<line x1="436.25" y1="512.9" x2="439.25" y2="512.9" stroke="#231f20" stroke-width="1.1" />
<text transform="translate(432.75,515.6999999999999) scale(0.92,1)" font-size="8.5" text-anchor="end" font-weight="normal" fill="#231f20" stroke="#231f20" stroke-width="0.08">20</text>
<line x1="436.25" y1="540.7" x2="439.25" y2="540.7" stroke="#231f20" stroke-width="1.1" />
<text transform="translate(432.75,543.5) scale(0.92,1)" font-size="8.5" text-anchor="end" font-weight="normal" fill="#231f20" stroke="#231f20" stroke-width="0.08">0</text>
<line x1="436.25" y1="540.7" x2="520" y2="540.7" stroke="#231f20" stroke-width="1.25" />
<rect x="449" y="400" width="19.8" height="140.7" fill="#18518b"/>
<rect x="495.8" y="400" width="19.9" height="68.4" fill="#3bb44d"/>
<rect x="495.8" y="468.4" width="19.9" height="72.3" fill="#c8132f"/>
<line x1="458.9" y1="540.7" x2="458.9" y2="543.7" stroke="#231f20" stroke-width="1.1" />
<line x1="505.8" y1="540.7" x2="505.8" y2="543.7" stroke="#231f20" stroke-width="1.1" />
<text x="459.2" y="473.3" font-size="7.9" text-anchor="middle" font-weight="normal" fill="#ffffff" stroke="#ffffff" stroke-width="0">100</text>
<text x="505.9" y="507.0" font-size="7.9" text-anchor="middle" font-weight="normal" fill="#ffffff" stroke="#ffffff" stroke-width="0">52</text>
<circle cx="500.20" cy="394.5" r="1.3" fill="#231f20"/>
<circle cx="504.13" cy="394.5" r="1.3" fill="#231f20"/>
<circle cx="508.07" cy="394.5" r="1.3" fill="#231f20"/>
<circle cx="512.00" cy="394.5" r="1.3" fill="#231f20"/>
<text x="458.9" y="553.8" font-size="8.3" text-anchor="middle" font-weight="normal" fill="#231f20" stroke="#231f20" stroke-width="0.12" textLength="18.4" lengthAdjust="spacingAndGlyphs">LGLL</text>
<text x="458.9" y="563.0" font-size="8.3" text-anchor="middle" font-weight="normal" fill="#231f20" stroke="#231f20" stroke-width="0.12" textLength="18.6" lengthAdjust="spacingAndGlyphs">n=55</text>
<text x="505.9" y="553.8" font-size="8.3" text-anchor="middle" font-weight="normal" fill="#231f20" stroke="#231f20" stroke-width="0.12">MN</text>
<text x="505.9" y="563.0" font-size="8.3" text-anchor="middle" font-weight="normal" fill="#231f20" stroke="#231f20" stroke-width="0.12" textLength="18.6" lengthAdjust="spacingAndGlyphs">n=50</text>
<text transform="translate(413.1,468.3) rotate(-90)" x="0" y="0" font-size="9.5" text-anchor="middle" fill="#231f20" textLength="57.6" lengthAdjust="spacingAndGlyphs" stroke="#231f20" stroke-width="0.25">% of leading clones</text>
</svg>
</body></html>
